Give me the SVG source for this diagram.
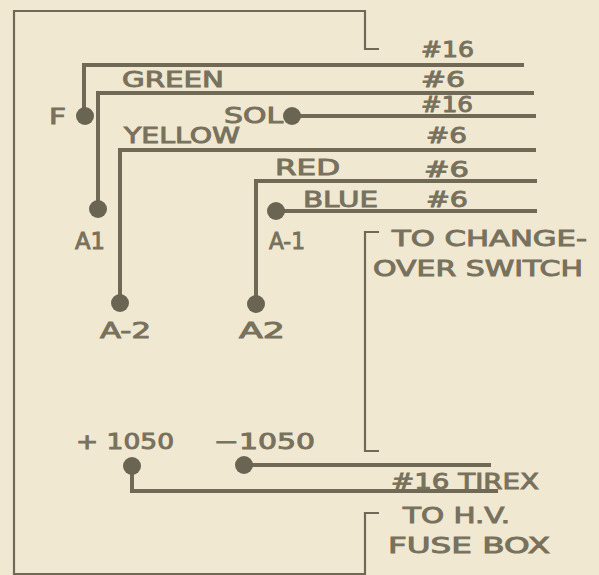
<svg xmlns="http://www.w3.org/2000/svg" width="599" height="575" viewBox="0 0 599 575">
<style>
.w{fill:none;stroke:#6f6955;stroke-width:4}
.f{fill:none;stroke:#6f6955;stroke-width:2.2}
.d{fill:#6a6453}
text{font-family:"DejaVu Sans","Liberation Sans",sans-serif;font-size:21px;fill:#77715d;stroke:#77715d;stroke-width:.9}
</style>
<rect width="599" height="575" fill="#f1e8d2"/>
<g id="frames">
<path class="f" d="M379 49H365V11H14V574H365V513H379"/>
<path class="f" d="M379 232H365V451H379"/>
</g>
<g id="connectors">
<path class="w" d="M84 116V65H524"/>
<path class="w" d="M98 209V93H534"/>
<path class="w" d="M292 116H536"/>
<path class="w" d="M120 303V150H536"/>
<path class="w" d="M256 304V181H537"/>
<path class="w" d="M276 211H537"/>
<path class="w" d="M244 465H491"/>
<path class="w" d="M132 466V491H498"/>
</g>
<g id="node-F"><circle class="d" cx="85" cy="116" r="9"/><text x="49" y="124" textLength="17" lengthAdjust="spacingAndGlyphs">F</text></g>
<g id="node-A1"><circle class="d" cx="98" cy="209" r="9"/><text x="75" y="249" textLength="30" lengthAdjust="spacingAndGlyphs" style="font-size:23px">A1</text></g>
<g id="node-SOL"><circle class="d" cx="292" cy="116" r="9"/><text x="224" y="123" textLength="59" lengthAdjust="spacingAndGlyphs">SOL</text></g>
<g id="node-A-2"><circle class="d" cx="120" cy="303" r="9"/><text x="100" y="338" textLength="51" lengthAdjust="spacingAndGlyphs">A-2</text></g>
<g id="node-A2"><circle class="d" cx="256" cy="304" r="9"/><text x="239" y="338" textLength="46" lengthAdjust="spacingAndGlyphs">A2</text></g>
<g id="node-A-1"><circle class="d" cx="276" cy="211" r="9"/><text x="269" y="249" textLength="36" lengthAdjust="spacingAndGlyphs" style="font-size:23px">A-1</text></g>
<g id="node-plus1050"><circle class="d" cx="132" cy="466" r="9"/><text x="76" y="449" textLength="98" lengthAdjust="spacingAndGlyphs">+ 1050</text></g>
<g id="node-minus1050"><circle class="d" cx="244" cy="465" r="9"/><text x="214" y="449" textLength="101" lengthAdjust="spacingAndGlyphs">−1050</text></g>
<g id="labels">
<text x="122" y="87" textLength="102" lengthAdjust="spacingAndGlyphs">GREEN</text>
<text x="124" y="143" textLength="116" lengthAdjust="spacingAndGlyphs">YELLOW</text>
<text x="275" y="175" textLength="65" lengthAdjust="spacingAndGlyphs">RED</text>
<text x="303" y="207" textLength="75" lengthAdjust="spacingAndGlyphs">BLUE</text>
<text x="421" y="57" textLength="53" lengthAdjust="spacingAndGlyphs">#16</text>
<text x="421" y="87" textLength="44" lengthAdjust="spacingAndGlyphs">#6</text>
<text x="421" y="112" textLength="52" lengthAdjust="spacingAndGlyphs">#16</text>
<text x="426" y="143" textLength="41" lengthAdjust="spacingAndGlyphs">#6</text>
<text x="424" y="177" textLength="45" lengthAdjust="spacingAndGlyphs">#6</text>
<text x="426" y="207" textLength="42" lengthAdjust="spacingAndGlyphs">#6</text>
<text x="392" y="246" textLength="195" lengthAdjust="spacingAndGlyphs">TO CHANGE-</text>
<text x="373" y="276" textLength="210" lengthAdjust="spacingAndGlyphs">OVER SWITCH</text>
<text x="391" y="489" textLength="148" lengthAdjust="spacingAndGlyphs">#16 TIREX</text>
<text x="403" y="523" textLength="107" lengthAdjust="spacingAndGlyphs">TO H.V.</text>
<text x="388" y="553" textLength="162" lengthAdjust="spacingAndGlyphs">FUSE BOX</text>
</g>
</svg>
